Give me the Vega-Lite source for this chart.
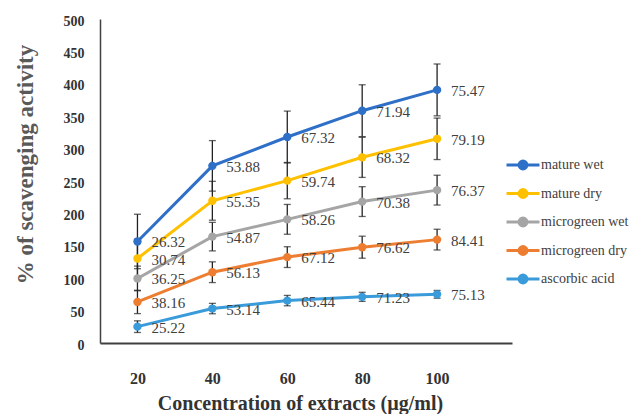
{
  "$schema": "https://vega.github.io/schema/vega-lite/v6.json",
  "autosize": "none",
  "padding": {"left": 100, "top": 19, "right": 126, "bottom": 71},
  "width": 412,
  "height": 324,
  "background": "white",
  "config": {
    "view": {"stroke": null},
    "font": "'Liberation Serif', 'Times New Roman', serif",
    "text": {"font": "'Liberation Serif', 'Times New Roman', serif"},
    "legend": {"labelFont": "'Liberation Serif', 'Times New Roman', serif"},
    "axis": {"labelFont": "'Liberation Serif', 'Times New Roman', serif", "titleFont": "'Liberation Serif', 'Times New Roman', serif"}
  },
  "data": {
    "values": [
      {"conc": 20, "series": "ascorbic acid", "rank": 1, "value": 25.22, "err": 9},
      {"conc": 40, "series": "ascorbic acid", "rank": 1, "value": 53.14, "err": 8},
      {"conc": 60, "series": "ascorbic acid", "rank": 1, "value": 65.44, "err": 8},
      {"conc": 80, "series": "ascorbic acid", "rank": 1, "value": 71.23, "err": 7},
      {"conc": 100, "series": "ascorbic acid", "rank": 1, "value": 75.13, "err": 6},
      {"conc": 20, "series": "microgreen dry", "rank": 2, "value": 38.16, "err": 18},
      {"conc": 40, "series": "microgreen dry", "rank": 2, "value": 56.13, "err": 16},
      {"conc": 60, "series": "microgreen dry", "rank": 2, "value": 67.12, "err": 16},
      {"conc": 80, "series": "microgreen dry", "rank": 2, "value": 76.62, "err": 17},
      {"conc": 100, "series": "microgreen dry", "rank": 2, "value": 84.41, "err": 16},
      {"conc": 20, "series": "microgreen wet", "rank": 3, "value": 36.25, "err": 19},
      {"conc": 40, "series": "microgreen wet", "rank": 3, "value": 54.87, "err": 22},
      {"conc": 60, "series": "microgreen wet", "rank": 3, "value": 58.26, "err": 23},
      {"conc": 80, "series": "microgreen wet", "rank": 3, "value": 70.38, "err": 23},
      {"conc": 100, "series": "microgreen wet", "rank": 3, "value": 76.37, "err": 23},
      {"conc": 20, "series": "mature dry", "rank": 4, "value": 30.74, "err": 30},
      {"conc": 40, "series": "mature dry", "rank": 4, "value": 55.35, "err": 30},
      {"conc": 60, "series": "mature dry", "rank": 4, "value": 59.74, "err": 28},
      {"conc": 80, "series": "mature dry", "rank": 4, "value": 68.32, "err": 31},
      {"conc": 100, "series": "mature dry", "rank": 4, "value": 79.19, "err": 32},
      {"conc": 20, "series": "mature wet", "rank": 5, "value": 26.32, "err": 42},
      {"conc": 40, "series": "mature wet", "rank": 5, "value": 53.88, "err": 39},
      {"conc": 60, "series": "mature wet", "rank": 5, "value": 67.32, "err": 40},
      {"conc": 80, "series": "mature wet", "rank": 5, "value": 71.94, "err": 40},
      {"conc": 100, "series": "mature wet", "rank": 5, "value": 75.47, "err": 40}
    ]
  },
  "transform": [
    {"stack": "value", "groupby": ["conc"], "sort": [{"field": "rank", "order": "ascending"}], "as": ["lo", "hi"]}
  ],
  "encoding": {
    "x": {
      "field": "conc", "type": "quantitative",
      "scale": {"domain": [10, 120], "nice": false, "zero": false},
      "axis": {
        "values": [20, 40, 60, 80, 100],
        "title": "Concentration of extracts (µg/ml)",
        "grid": false, "ticks": false,
        "domainColor": "#404040", "domainWidth": 2,
        "labelFontSize": 16, "labelFontWeight": "bold", "labelColor": "#333333",
        "labelPadding": 27,
        "titleFontSize": 20, "titleFontWeight": "bold", "titleColor": "#333333",
        "titleX": 200, "titleY": 60, "titleBaseline": "middle", "titleAnchor": "middle"
      }
    },
    "y": {
      "field": "hi", "type": "quantitative",
      "scale": {"domain": [0, 500], "nice": false},
      "axis": {
        "values": [0, 50, 100, 150, 200, 250, 300, 350, 400, 450, 500],
        "title": "% of scavenging activity",
        "grid": false, "ticks": false,
        "domainColor": "#404040", "domainWidth": 1.5,
        "labelFontSize": 14, "labelFontWeight": "bold", "labelColor": "#333333",
        "labelPadding": 16, "labelBaseline": "middle", "labelOffset": 2,
        "titleFontSize": 23, "titleFontWeight": "bold", "titleColor": "#595959",
        "titleX": -75, "titleY": 145, "titleAngle": -90, "titleBaseline": "middle", "titleAlign": "center"
      }
    }
  },
  "layer": [
    {
      "mark": {"type": "line", "strokeWidth": 3},
      "encoding": {
        "color": {
          "field": "series", "type": "nominal",
          "scale": {
            "domain": ["mature wet", "mature dry", "microgreen wet", "microgreen dry", "ascorbic acid"],
            "range": ["#2E6FC7", "#FFC000", "#A5A5A5", "#ED7D31", "#3A9BDA"]
          },
          "legend": {
            "title": null,
            "orient": "none",
            "legendX": 413,
            "legendY": 136,
            "padding": 0,
            "symbolType": "M-2,0L2,0M0.48,0A0.48,0.48,0,1,1,-0.48,0A0.48,0.48,0,1,1,0.48,0Z",
            "symbolSize": 272,
            "symbolStrokeWidth": 3,
            "symbolOpacity": 1,
            "labelOffset": 8,
            "rowPadding": 8.5,
            "labelFontSize": 14,
            "labelColor": "#404040",
            "encode": {
              "symbols": {
                "update": {
                  "fill": {"scale": "color", "field": "value"},
                  "stroke": {"scale": "color", "field": "value"},
                  "strokeWidth": {"value": 3}
                }
              }
            }
          }
        },
        "detail": {"field": "series"}
      }
    },
    {
      "mark": {"type": "errorbar", "ticks": {"size": 7}, "color": "#222222", "thickness": 1.3},
      "encoding": {
        "y": {"field": "hi", "type": "quantitative"},
        "yError": {"field": "err"},
        "detail": {"field": "series"}
      }
    },
    {
      "mark": {"type": "point", "filled": true, "size": 70, "opacity": 1},
      "encoding": {
        "color": {"field": "series", "type": "nominal", "legend": null}
      }
    },
    {
      "mark": {"type": "text", "align": "left", "baseline": "middle", "dx": 14, "dy": 1, "fontSize": 15, "color": "#404040"},
      "encoding": {
        "text": {"field": "value", "type": "quantitative", "format": ".2f"}
      }
    }
  ]
}
